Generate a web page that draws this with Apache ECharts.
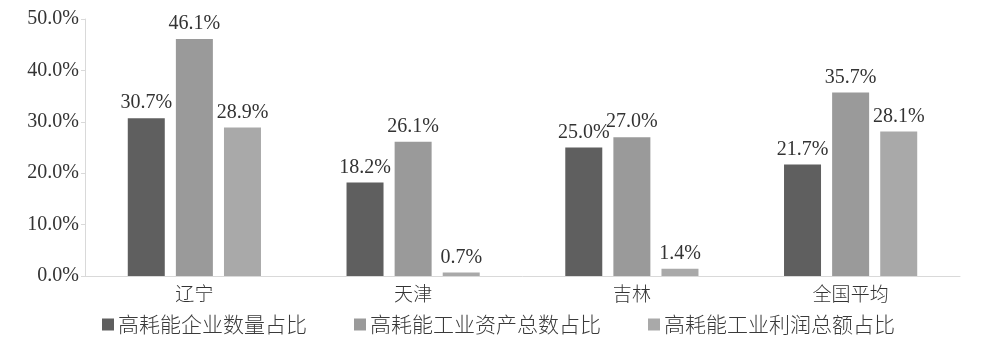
<!DOCTYPE html>
<html>
<head>
<meta charset="utf-8">
<script src="https://cdn.jsdelivr.net/npm/echarts@6/dist/echarts.min.js"></script>
<style>
html,body{margin:0;padding:0;background:#fff;}
#chart{width:998px;height:343px;}
</style>
</head>
<body>
<div id="chart"></div>
<script>
const categories = ['辽宁', '天津', '吉林', '全国平均'];
const seriesNames = ['高耗能企业数量占比', '高耗能工业资产总数占比', '高耗能工业利润总额占比'];
const enterpriseShare = [30.7, 18.2, 25.0, 21.7];
const assetShare = [46.1, 26.1, 27.0, 35.7];
const profitShare = [28.9, 0.7, 1.4, 28.1];
const yTicks = [0, 10, 20, 30, 40, 50];

const colors = ['#5f5f5f', '#9a9a9a', '#a9a9a9'];
const serif = '"Liberation Serif", "Times New Roman", serif';
const cjk = '"Noto Sans CJK SC", sans-serif';

const chart = echarts.init(document.getElementById('chart'), null, {renderer: 'canvas'});
const dataSets = [enterpriseShare, assetShare, profitShare];

chart.setOption({
  animation: false,
  backgroundColor: '#ffffff',
  grid: {left: 85, right: 38, top: 19, bottom: 67, containLabel: false},
  legend: {
    left: 97,
    top: 309,
    itemWidth: 12,
    itemHeight: 12,
    itemGap: 47,
    icon: 'rect',
    textStyle: {fontFamily: cjk, fontSize: 21, fontWeight: 300, color: '#3a3a3a', padding: [0, 0, 0, -1]},
    data: seriesNames
  },
  xAxis: {
    type: 'category',
    data: categories,
    axisLine: {show: true, lineStyle: {color: '#d9d9d9', width: 1}},
    axisTick: {show: false},
    axisLabel: {fontFamily: cjk, fontSize: 19, fontWeight: 300, color: '#333', margin: 8}
  },
  yAxis: {
    type: 'value',
    min: yTicks[0],
    max: yTicks[yTicks.length - 1],
    interval: 10,
    axisLine: {show: true, lineStyle: {color: '#d9d9d9', width: 1}},
    axisTick: {show: true, length: 4, lineStyle: {color: '#d9d9d9'}},
    splitLine: {show: false},
    axisLabel: {
      fontFamily: serif, fontSize: 20, color: '#333', margin: 6,
      formatter: v => v.toFixed(1) + '%'
    }
  },
  series: seriesNames.map((name, i) => ({
    name: name,
    type: 'bar',
    data: dataSets[i],
    barWidth: 37,
    barGap: '30%',
    itemStyle: {color: colors[i]},
    label: {
      show: true,
      position: 'top',
      distance: 5,
      fontFamily: serif,
      fontSize: 20,
      color: '#333',
      formatter: p => p.value.toFixed(1) + '%'
    }
  }))
});
</script>
</body>
</html>
